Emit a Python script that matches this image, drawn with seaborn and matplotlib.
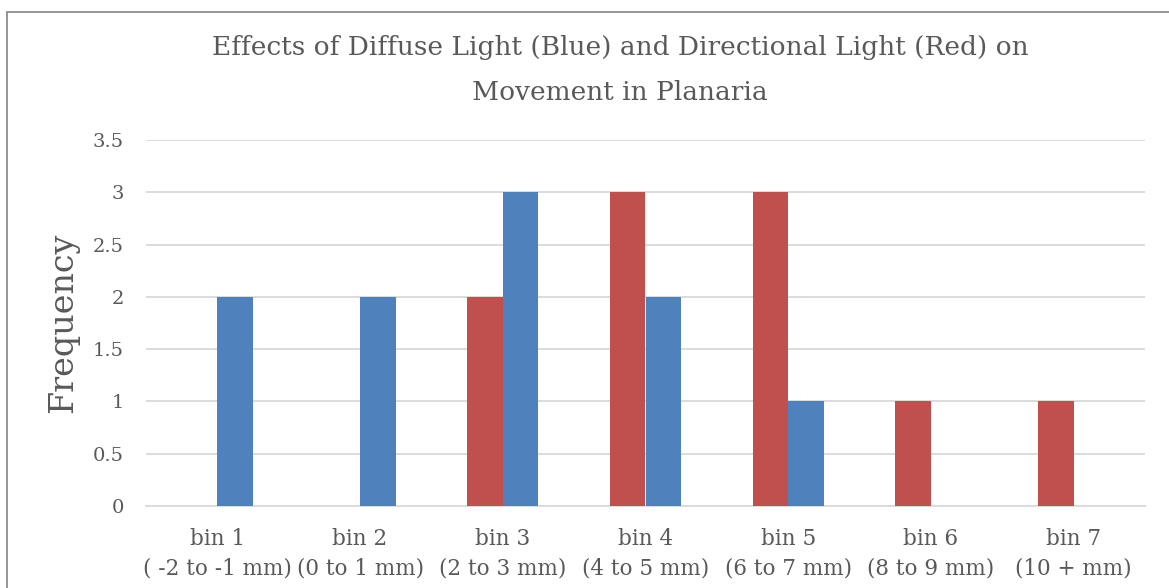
import matplotlib
matplotlib.use("Agg")
import matplotlib.pyplot as plt
import pandas as pd
import seaborn as sns
from matplotlib.patches import Rectangle

# bins and counts
bins = ["bin 1\n( -2 to -1 mm)", "bin 2\n(0 to 1 mm)", "bin 3\n(2 to 3 mm)",
        "bin 4\n(4 to 5 mm)", "bin 5\n(6 to 7 mm)", "bin 6\n(8 to 9 mm)",
        "bin 7\n(10 + mm)"]
directional = [0, 0, 2, 3, 3, 1, 1]   # red
diffuse = [2, 2, 3, 2, 1, 0, 0]       # blue
yticks = [0, 0.5, 1, 1.5, 2, 2.5, 3, 3.5]
title_lines = ["Effects of Diffuse Light (Blue) and Directional Light (Red) on",
               "Movement in Planaria"]

df = pd.DataFrame({
    "bin": bins * 2,
    "freq": directional + diffuse,
    "light": ["Directional"] * len(bins) + ["Diffuse"] * len(bins),
})

sns.set_style("white")
plt.rcParams['font.family'] = ['DejaVu Serif']
txt = "#595959"
grid = "#D9D9D9"

fig = plt.figure(figsize=(11.69, 5.88), dpi=100)
ax = fig.add_axes([146 / 1169, 1 - 506 / 588, (1145 - 146) / 1169, (506 - 140) / 588])

sns.barplot(data=df, x="bin", y="freq", hue="light", hue_order=["Directional", "Diffuse"],
            palette={"Directional": "#C0504D", "Diffuse": "#4F81BD"},
            width=0.5, saturation=1, dodge=True, legend=False, ax=ax,
            linewidth=0, zorder=3)

ax.set_ylim(0, 3.5)
ax.set_yticks(yticks)
ax.set_yticklabels([f"{t:g}" for t in yticks])
ax.set_xlim(-0.5, len(bins) - 0.5)
ax.yaxis.grid(True, color=grid, linewidth=1.3, zorder=0)
ax.set_axisbelow(True)
for s in ["top", "right", "left"]:
    ax.spines[s].set_visible(False)
ax.spines["bottom"].set_color(grid)
ax.spines["bottom"].set_linewidth(1.3)
ax.tick_params(axis="y", length=0, colors=txt, labelsize=14, pad=16)
ax.tick_params(axis="x", length=0, colors=txt, labelsize=15.5, pad=16)
for lab in ax.get_xticklabels():
    lab.set_linespacing(1.4)
ax.set_xlabel("")
ax.set_ylabel("Frequency", fontsize=24, color=txt, labelpad=10)

fig.text(620 / 1169, 1 - 35 / 588, title_lines[0],
         ha="center", va="top", fontsize=19, color=txt)
fig.text(620 / 1169, 1 - 80 / 588, title_lines[1],
         ha="center", va="top", fontsize=19, color=txt)

fig.patches.append(Rectangle((7 / 1169, -0.1), 1.2, 1 - 12 / 588 + 0.1,
                             transform=fig.transFigure, fill=False,
                             edgecolor="#8C8C8C", linewidth=1.3))

fig.savefig("out.png", dpi=100)
